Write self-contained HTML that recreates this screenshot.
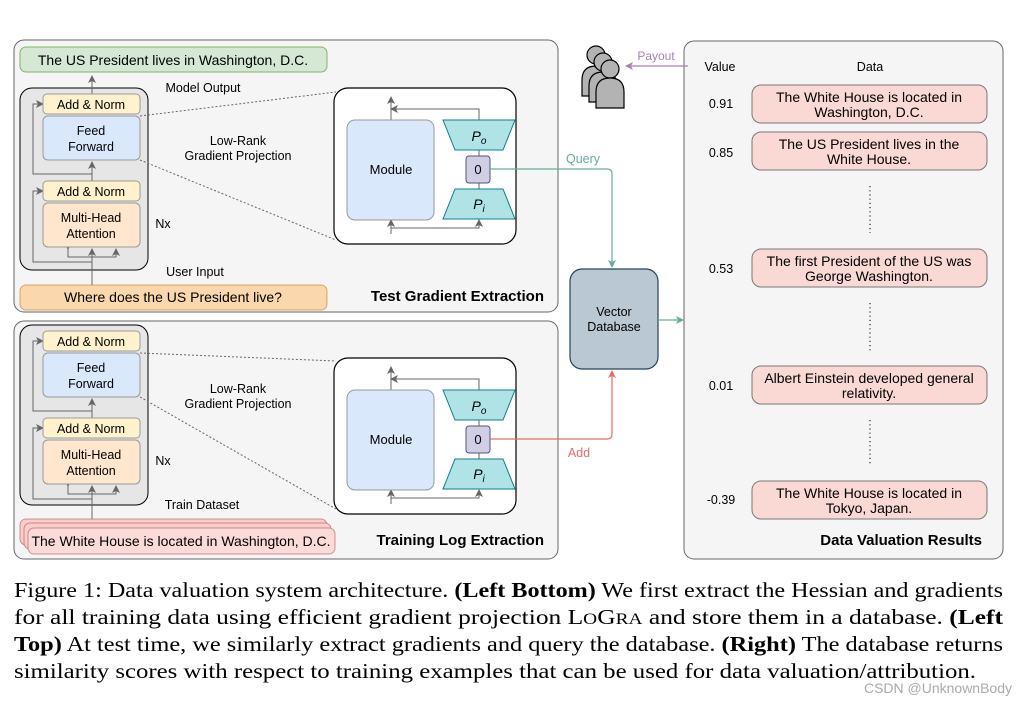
<!DOCTYPE html>
<html><head><meta charset="utf-8"><style>
html,body{margin:0;padding:0;background:#fff;width:1017px;height:704px;overflow:hidden}
svg text{font-family:"Liberation Sans",sans-serif}
svg text.cap{font-family:"Liberation Serif",serif}
</style></head><body>
<svg width="1017" height="704" viewBox="0 0 1017 704" xmlns="http://www.w3.org/2000/svg">
<defs>
<marker id="ag" markerWidth="8" markerHeight="8" refX="7" refY="4" orient="auto" markerUnits="userSpaceOnUse"><path d="M0,0 L8,4 L0,8 L2,4 z" fill="#666"/></marker>
<marker id="at" markerWidth="8" markerHeight="8" refX="7" refY="4" orient="auto" markerUnits="userSpaceOnUse"><path d="M0,0 L8,4 L0,8 L2,4 z" fill="#67ab9f"/></marker>
<marker id="ar" markerWidth="8" markerHeight="8" refX="7" refY="4" orient="auto" markerUnits="userSpaceOnUse"><path d="M0,0 L8,4 L0,8 L2,4 z" fill="#ea6b66"/></marker>
<marker id="ap" markerWidth="8" markerHeight="8" refX="7" refY="4" orient="auto" markerUnits="userSpaceOnUse"><path d="M0,0 L8,4 L0,8 L2,4 z" fill="#a680b8"/></marker>
</defs>

<rect x="14" y="40" width="544" height="272" rx="10" fill="#f5f5f5" stroke="#666"/>
<rect x="14" y="321" width="544" height="238" rx="10" fill="#f5f5f5" stroke="#666"/>
<rect x="684" y="41" width="319" height="518" rx="10" fill="#f5f5f5" stroke="#666"/>

<!-- TOP -->
<rect x="20" y="47" width="307" height="25" rx="6" fill="#d5e8d4" stroke="#82b366"/>
<text x="173" y="65" font-size="14" text-anchor="middle">The US President lives in Washington, D.C.</text>
<rect x="20" y="88" width="128" height="182" rx="12" fill="#e6e6e6" stroke="#000"/>
<line x1="92" y1="94" x2="92" y2="76" stroke="#666" marker-end="url(#ag)"/>
<path d="M92,181 L92,174 L33,174 L33,104 L43,104" fill="none" stroke="#666" marker-end="url(#ag)"/>
<line x1="92" y1="181" x2="92" y2="162" stroke="#666" marker-end="url(#ag)"/>
<path d="M92,285 L92,262 L33,262 L33,191 L43,191" fill="none" stroke="#666" marker-end="url(#ag)"/>
<line x1="92" y1="262" x2="92" y2="249" stroke="#666" marker-end="url(#ag)"/>
<path d="M68,249 L68,257 L116,257 L116,249" fill="none" stroke="#666" marker-start="url(#ag)" marker-end="url(#ag)"/>
<rect x="43" y="94" width="97" height="20" rx="4" fill="#fff2cc" stroke="#999"/>
<text x="91" y="109" font-size="12.5" text-anchor="middle">Add &amp; Norm</text>
<rect x="43" y="116" width="97" height="44" rx="5" fill="#dae8fc" stroke="#999"/>
<text x="91" y="135" font-size="12.5" text-anchor="middle">Feed</text>
<text x="91" y="151" font-size="12.5" text-anchor="middle">Forward</text>
<rect x="43" y="181" width="97" height="20" rx="4" fill="#fff2cc" stroke="#999"/>
<text x="91" y="196" font-size="12.5" text-anchor="middle">Add &amp; Norm</text>
<rect x="43" y="203" width="97" height="44" rx="5" fill="#ffe6cc" stroke="#999"/>
<text x="91" y="222" font-size="12.5" text-anchor="middle">Multi-Head</text>
<text x="91" y="238" font-size="12.5" text-anchor="middle">Attention</text>
<rect x="20" y="285" width="307" height="25" rx="6" fill="#fad7ac" stroke="#b46504" stroke-opacity="0.5"/>
<text x="173" y="302" font-size="14" text-anchor="middle">Where does the US President live?</text>
<text x="203" y="92" font-size="12.5" text-anchor="middle">Model Output</text>
<text x="238" y="145" font-size="12.5" text-anchor="middle">Low-Rank</text>
<text x="238" y="160" font-size="12.5" text-anchor="middle">Gradient Projection</text>
<text x="163" y="228" font-size="12.5" text-anchor="middle">Nx</text>
<text x="195" y="276" font-size="12.5" text-anchor="middle">User Input</text>
<text x="544" y="301" font-size="15" font-weight="bold" text-anchor="end">Test Gradient Extraction</text>
<line x1="140" y1="116" x2="336" y2="92" stroke="#666" stroke-dasharray="2,2"/>
<line x1="140" y1="160" x2="336" y2="240" stroke="#666" stroke-dasharray="2,2"/>
<g id="inner">
<rect x="334" y="88" width="182" height="156" rx="14" fill="#fff" stroke="#000" stroke-width="1.2"/>
<line x1="391" y1="120" x2="391" y2="97" stroke="#666" marker-end="url(#ag)"/>
<path d="M479,120 L479,109 L391,109" fill="none" stroke="#666" marker-end="url(#ag)"/>
<path d="M391,234 L391,220" fill="none" stroke="#666" marker-end="url(#ag)"/>
<path d="M391,228 L479,228 L479,220" fill="none" stroke="#666" marker-end="url(#ag)"/>
<rect x="347" y="120" width="87" height="100" rx="8" fill="#dae8fc" stroke="#999"/>
<text x="391" y="174" font-size="13" text-anchor="middle">Module</text>
<polygon points="443,120 515,120 503,150 455,150" fill="#b0e3e6" stroke="#0e8088"/>
<text x="479" y="141" font-size="14" font-style="italic" text-anchor="middle">P<tspan font-size="10" dy="3">o</tspan></text>
<line x1="479" y1="150" x2="479" y2="189" stroke="#666"/>
<rect x="466" y="156" width="24" height="27" rx="3" fill="#d0cee2" stroke="#56517e"/>
<text x="478" y="174" font-size="13" text-anchor="middle">0</text>
<polygon points="455,189 503,189 515,219 443,219" fill="#b0e3e6" stroke="#0e8088"/>
<text x="479" y="209" font-size="14" font-style="italic" text-anchor="middle">P<tspan font-size="10" dy="3">i</tspan></text>
</g>
<path d="M490,169 L607,169 Q612,169 612,174 L612,267" fill="none" stroke="#67ab9f" stroke-width="1.2" marker-end="url(#at)"/>
<text x="583" y="163" font-size="12.5" fill="#67ab9f" text-anchor="middle">Query</text>

<!-- BOTTOM -->
<rect x="20" y="325" width="128" height="180" rx="12" fill="#e6e6e6" stroke="#000"/>
<path d="M92,418 L92,411 L33,411 L33,341 L43,341" fill="none" stroke="#666" marker-end="url(#ag)"/>
<line x1="92" y1="418" x2="92" y2="399" stroke="#666" marker-end="url(#ag)"/>
<path d="M92,519 L92,499 L33,499 L33,428 L43,428" fill="none" stroke="#666" marker-end="url(#ag)"/>
<line x1="92" y1="499" x2="92" y2="486" stroke="#666" marker-end="url(#ag)"/>
<path d="M68,486 L68,494 L116,494 L116,486" fill="none" stroke="#666" marker-start="url(#ag)" marker-end="url(#ag)"/>
<rect x="43" y="331" width="97" height="20" rx="4" fill="#fff2cc" stroke="#999"/>
<text x="91" y="346" font-size="12.5" text-anchor="middle">Add &amp; Norm</text>
<rect x="43" y="353" width="97" height="44" rx="5" fill="#dae8fc" stroke="#999"/>
<text x="91" y="372" font-size="12.5" text-anchor="middle">Feed</text>
<text x="91" y="388" font-size="12.5" text-anchor="middle">Forward</text>
<rect x="43" y="418" width="97" height="20" rx="4" fill="#fff2cc" stroke="#999"/>
<text x="91" y="433" font-size="12.5" text-anchor="middle">Add &amp; Norm</text>
<rect x="43" y="440" width="97" height="44" rx="5" fill="#ffe6cc" stroke="#999"/>
<text x="91" y="459" font-size="12.5" text-anchor="middle">Multi-Head</text>
<text x="91" y="475" font-size="12.5" text-anchor="middle">Attention</text>
<rect x="20" y="519" width="307" height="26" rx="6" fill="#f8cecc" stroke="#b85450" stroke-opacity="0.6"/>
<rect x="24" y="523" width="307" height="26" rx="6" fill="#f8cecc" stroke="#b85450" stroke-opacity="0.6"/>
<rect x="28" y="528" width="307" height="26" rx="6" fill="#fadbd8" stroke="#b85450" stroke-opacity="0.6"/>
<text x="181" y="546" font-size="14" text-anchor="middle">The White House is located in Washington, D.C.</text>
<text x="238" y="393" font-size="12.5" text-anchor="middle">Low-Rank</text>
<text x="238" y="408" font-size="12.5" text-anchor="middle">Gradient Projection</text>
<text x="163" y="465" font-size="12.5" text-anchor="middle">Nx</text>
<text x="202" y="509" font-size="12.5" text-anchor="middle">Train Dataset</text>
<text x="544" y="545" font-size="15" font-weight="bold" text-anchor="end">Training Log Extraction</text>
<line x1="140" y1="353" x2="336" y2="361" stroke="#666" stroke-dasharray="2,2"/>
<line x1="140" y1="397" x2="336" y2="509" stroke="#666" stroke-dasharray="2,2"/>
<use href="#inner" transform="translate(0,270)"/>
<path d="M490,439 L607,439 Q612,439 612,434 L612,371" fill="none" stroke="#ea6b66" stroke-width="1.2" marker-end="url(#ar)"/>
<text x="579" y="457" font-size="12.5" fill="#ea6b66" text-anchor="middle">Add</text>

<rect x="570" y="269" width="88" height="100" rx="12" fill="#bac8d3" stroke="#23445d" stroke-width="1.2"/>
<text x="614" y="316" font-size="12.5" text-anchor="middle">Vector</text>
<text x="614" y="331" font-size="12.5" text-anchor="middle">Database</text>
<line x1="658" y1="320" x2="683" y2="320" stroke="#67ab9f" stroke-width="1.2" marker-end="url(#at)"/>

<g fill="#b3b3b3" stroke="#000" stroke-width="1.2">
<circle cx="596" cy="55" r="9"/><path d="M582,96 L582,80 Q582,66 596,66 Q610,66 610,80 L610,96 z"/>
<circle cx="603" cy="62" r="9"/><path d="M589,102 L589,86 Q589,72 603,72 Q617,72 617,86 L617,102 z"/>
<circle cx="610" cy="69" r="9"/><path d="M596,108 L596,92 Q596,78 610,78 Q624,78 624,92 L624,108 z"/>
</g>
<line x1="688" y1="66" x2="626" y2="66" stroke="#a680b8" stroke-width="1.2" marker-end="url(#ap)"/>
<text x="656" y="60" font-size="12" fill="#a680b8" text-anchor="middle">Payout</text>

<text x="720" y="71" font-size="12.5" text-anchor="middle">Value</text>
<text x="870" y="71" font-size="12.5" text-anchor="middle">Data</text>
<g font-size="14" text-anchor="middle">
<rect x="752" y="85" width="235" height="38" rx="9" fill="#fad9d5" stroke="#777"/>
<text x="869" y="102">The White House is located in</text><text x="869" y="117">Washington, D.C.</text>
<rect x="752" y="132" width="235" height="38" rx="9" fill="#fad9d5" stroke="#777"/>
<text x="869" y="149">The US President lives in the</text><text x="869" y="164">White House.</text>
<rect x="752" y="249" width="235" height="38" rx="9" fill="#fad9d5" stroke="#777"/>
<text x="869" y="266">The first President of the US was</text><text x="869" y="281">George Washington.</text>
<rect x="752" y="366" width="235" height="38" rx="9" fill="#fad9d5" stroke="#777"/>
<text x="869" y="383">Albert Einstein developed general</text><text x="869" y="398">relativity.</text>
<rect x="752" y="481" width="235" height="38" rx="9" fill="#fad9d5" stroke="#777"/>
<text x="869" y="498">The White House is located in</text><text x="869" y="513">Tokyo, Japan.</text>
</g>
<g font-size="12.5" text-anchor="middle">
<text x="721" y="108">0.91</text><text x="721" y="157">0.85</text><text x="721" y="273">0.53</text><text x="721" y="390">0.01</text><text x="721" y="504">-0.39</text>
</g>
<g stroke="#000" stroke-dasharray="1.2,3">
<line x1="870" y1="186" x2="870" y2="233"/><line x1="870" y1="303" x2="870" y2="351"/><line x1="870" y1="420" x2="870" y2="466"/>
</g>
<text x="982" y="545" font-size="15" font-weight="bold" text-anchor="end">Data Valuation Results</text>

<text class="cap" x="14" y="597" font-size="21" textLength="989" lengthAdjust="spacingAndGlyphs">Figure 1: Data valuation system architecture. <tspan font-weight="bold">(Left Bottom)</tspan> We first extract the Hessian and gradients</text>
<text class="cap" x="14" y="624" font-size="21" textLength="989" lengthAdjust="spacingAndGlyphs">for all training data using efficient gradient projection L<tspan font-size="16">O</tspan>G<tspan font-size="16">RA</tspan> and store them in a database. <tspan font-weight="bold">(Left</tspan></text>
<text class="cap" x="14" y="651" font-size="21" textLength="989" lengthAdjust="spacingAndGlyphs"><tspan font-weight="bold">Top)</tspan> At test time, we similarly extract gradients and query the database. <tspan font-weight="bold">(Right)</tspan> The database returns</text>
<text class="cap" x="14" y="678" font-size="21" textLength="962" lengthAdjust="spacingAndGlyphs">similarity scores with respect to training examples that can be used for data valuation/attribution.</text>
<text x="1012" y="693" font-size="14" fill="#aaa" text-anchor="end">CSDN @UnknownBody</text>
</svg>
</body></html>
